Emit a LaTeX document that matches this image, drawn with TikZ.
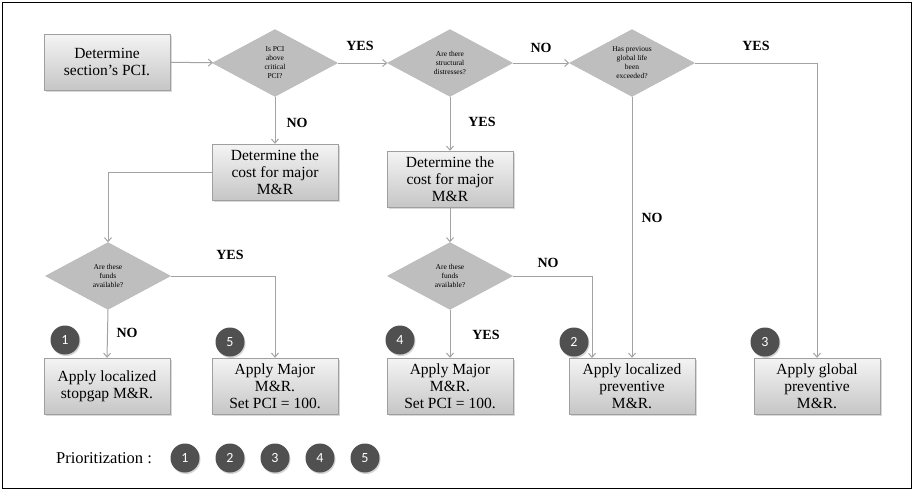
\documentclass[tikz,border=0pt]{standalone}
\usepackage{fontspec}
\setmainfont{Liberation Serif}
\newfontfamily\badgefont{Carlito}
\usetikzlibrary{shapes.geometric, arrows.meta, shadows}
\definecolor{LineGray}{HTML}{A3A3A3}
\definecolor{BoxTop}{HTML}{F4F4F4}
\definecolor{BoxBottom}{HTML}{C6C6C6}
\definecolor{DiamondGray}{HTML}{BEBEBE}
\definecolor{BadgeGray}{HTML}{505050}

\begin{document}
\begin{tikzpicture}[x=1pt, y=-1pt,
    box/.style={draw=gray!75, top color=BoxTop, bottom color=BoxBottom, minimum width=126pt, minimum height=56pt, inner sep=1pt, align=center, font=\fontsize{15.5}{17}\selectfont, drop shadow={opacity=0.3, shadow xshift=1.5pt, shadow yshift=-1.5pt}},
    decision/.style={diamond, aspect=1.9, draw=gray!55, fill=DiamondGray, minimum width=125pt, minimum height=67pt, inner sep=0pt, align=center, font=\fontsize{7.5}{9}\selectfont},
    badge/.style={circle, fill=BadgeGray, text=white, minimum size=29pt, inner sep=0pt, font=\badgefont\fontsize{14}{14}\selectfont, drop shadow={opacity=0.35, shadow xshift=1pt, shadow yshift=-1.5pt}},
    answer/.style={font=\bfseries\fontsize{14}{14}\selectfont},
    flow/.style={draw=LineGray, line width=1pt, -{Straight Barb[length=4pt, width=7pt]}}]
    \useasboundingbox (0,0) rectangle (914,491);
    \draw[line width=1.2pt] (2.5,2.5) rectangle (911.5,488.5);

    % top row
    \node[box] (start) at (107,62) {Determine\\section's PCI.};
    \node[decision] (abovecrit) at (275,63) {Is PCI\\above\\critical\\PCI?};
    \node[decision] (structural) at (450,63) {Are there\\structural\\distresses?};
    \node[decision] (globallife) at (632,63) {Has previous\\global life\\been\\exceeded?};

    % cost boxes
    \node[box] (costleft) at (275,172) {Determine the\\cost for major\\M\&R};
    \node[box] (costmid) at (450,179) {Determine the\\cost for major\\M\&R};

    % funds checks
    \node[decision] (fundsleft) at (108,276) {Are these\\funds\\available?};
    \node[decision] (fundsmid) at (450,276) {Are these\\funds\\available?};

    % actions
    \node[box] (stopgap) at (107,386) {Apply localized\\stopgap M\&R.};
    \node[box] (majorleft) at (275,386) {Apply Major\\M\&R.\\Set PCI = 100.};
    \node[box] (majormid) at (450,386) {Apply Major\\M\&R.\\Set PCI = 100.};
    \node[box] (locprev) at (632,386) {Apply localized\\preventive\\M\&R.};
    \node[box] (globprev) at (817,386) {Apply global\\preventive\\M\&R.};
    \coordinate (locprevin) at (592,358);

    % priority badges
    \node[badge] (b1) at (65,340) {1};
    \node[badge] (b5) at (230,342) {5};
    \node[badge] (b4) at (400,340) {4};
    \node[badge] (b2) at (574,342) {2};
    \node[badge] (b3) at (765,342) {3};

    % connectors
    \draw[flow] (start) -- (abovecrit);
    \draw[flow] (abovecrit) -- (structural);
    \draw[flow] (structural) -- (globallife);
    \draw[flow] (globallife.east) -| (globprev.north);
    \draw[flow] (globallife.south) -- (locprev.north);
    \draw[flow] (abovecrit.south) -- (costleft.north);
    \draw[flow] (structural.south) -- (costmid.north);
    \draw[flow] (costleft.west) -| (fundsleft.north);
    \draw[flow] (costmid.south) -- (fundsmid.north);
    \draw[flow] (fundsleft.east) -| (majorleft.north);
    \draw[flow] (fundsleft.south) -- (stopgap.north);
    \draw[flow] (fundsmid.east) -| (locprevin);
    \draw[flow] (fundsmid.south) -- (majormid.north);

    % answers
    \node[answer] (yes1) at (360,46) {YES};
    \node[answer] (no1) at (541,48) {NO};
    \node[answer] (yes2) at (756,46) {YES};
    \node[answer] (no2) at (297,123) {NO};
    \node[answer] (yes3) at (482,122) {YES};
    \node[answer] (no3) at (652,218) {NO};
    \node[answer] (yes4) at (230,255) {YES};
    \node[answer] (no4) at (127,333) {NO};
    \node[answer] (no5) at (548,263) {NO};
    \node[answer] (yes5) at (486,335) {YES};

    % prioritization legend
    \node[font=\fontsize{16.5}{16.5}\selectfont] (prio) at (104,458) {Prioritization :};
    \foreach \n in {1,...,5}
        \node[badge] (p\n) at (140+45*\n,458) {\n};
\end{tikzpicture}
\end{document}
